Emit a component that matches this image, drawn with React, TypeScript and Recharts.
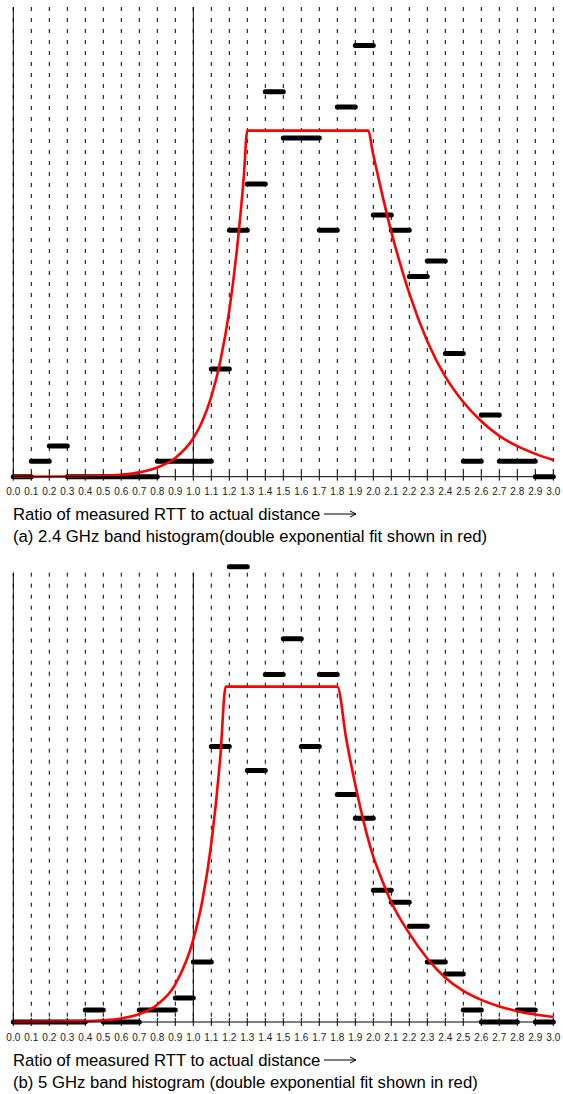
import React from 'react';
import {
  ComposedChart,
  Line,
  XAxis,
  YAxis,
  CartesianGrid,
  ReferenceLine,
} from 'recharts';

// bin edges = tick positions along the ratio axis
const binEdges = [
  0.0, 0.1, 0.2, 0.3, 0.4, 0.5, 0.6, 0.7, 0.8, 0.9, 1.0, 1.1, 1.2, 1.3, 1.4, 1.5,
  1.6, 1.7, 1.8, 1.9, 2.0, 2.1, 2.2, 2.3, 2.4, 2.5, 2.6, 2.7, 2.8, 2.9, 3.0,
];

// histogram counts per 0.1 bin (2.4 GHz)
const counts24 = [
  0, 1, 2, 0, 0, 0, 0, 0, 1, 1, 1, 7, 16, 19, 25, 22, 22, 16, 24, 28, 17, 16, 13,
  14, 8, 1, 4, 1, 1, 0,
];
// histogram counts per 0.1 bin (5 GHz)
const counts5 = [
  0, 0, 0, 0, 1, 0, 0, 1, 1, 2, 5, 23, 38, 21, 29, 32, 23, 29, 19, 17, 11, 10, 8,
  5, 4, 1, 0, 0, 1, 0,
];

// red fit
const fitX24 = [
  0, 0.3, 0.5, 0.6, 0.7, 0.8, 0.9, 1.0, 1.05, 1.1, 1.15, 1.2, 1.25, 1.28, 1.3,
  1.97, 2.0, 2.05, 2.1, 2.15, 2.2, 2.3, 2.4, 2.5, 2.6, 2.7, 2.8, 2.9, 3.0,
];
const fitY24 = [
  0, 0.015, 0.06, 0.13, 0.28, 0.6, 1.22, 2.5, 3.6, 5.2, 7.5, 10.8, 15.6, 19.4,
  22.47, 22.47, 20.9, 18.3, 15.9, 13.8, 11.9, 8.8, 6.5, 4.85, 3.6, 2.65, 1.98,
  1.48, 1.08,
];
const fitX5 = [
  0, 0.2, 0.4, 0.5, 0.6, 0.7, 0.8, 0.9, 1.0, 1.05, 1.1, 1.15, 1.18, 1.8, 1.85,
  1.9, 1.95, 2.0, 2.05, 2.1, 2.2, 2.3, 2.4, 2.5, 2.6, 2.7, 2.8, 2.9, 3.0,
];
const fitY5 = [
  0.01, 0.03, 0.07, 0.14, 0.3, 0.67, 1.45, 3.15, 6.87, 10.1, 14.9, 22.1, 28.0,
  28.0, 23.6, 19.8, 16.5, 13.8, 11.8, 10.0, 7.4, 5.3, 3.7, 2.6, 1.85, 1.3, 0.9,
  0.62, 0.42,
];

const font = '"Liberation Sans", Arial, sans-serif';

const toSteps = (counts: number[]) =>
  counts.flatMap((c, i) => [
    { x: binEdges[i], y: c },
    { x: binEdges[i + 1], y: c },
    { x: binEdges[i + 1], y: null },
  ]);

const toFit = (xs: number[], ys: number[]) => xs.map((x, i) => ({ x, y: ys[i] }));

const CrossTick = (props: any) => {
  const { x, y, payload } = props;
  return (
    <g>
      <line x1={x} x2={x} y1={y - 4} y2={y + 4} stroke="#000" strokeWidth={1} />
      <text
        x={x}
        y={y + 18.5}
        textAnchor="middle"
        fontSize={10}
        fontFamily={font}
        fill="#222"
      >
        {Number(payload.value).toFixed(1)}
      </text>
    </g>
  );
};

interface HistProps {
  counts: number[];
  fitX: number[];
  fitY: number[];
  yMax: number;
  frameTop: number;
  marginTop: number;
  axisHeight: number;
  gridY?: number;
  gridHeight?: number;
}

const Histogram: React.FC<HistProps> = ({
  counts,
  fitX,
  fitY,
  yMax,
  frameTop,
  marginTop,
  axisHeight,
  gridY,
  gridHeight,
}) => (
  <ComposedChart
    width={563}
    height={500}
    margin={{ top: marginTop, right: 9.7, bottom: 0, left: 13.3 }}
  >
    <CartesianGrid
      horizontal={false}
      stroke="#000"
      strokeDasharray="4 7"
      y={gridY}
      height={gridHeight}
    />
    <XAxis
      type="number"
      dataKey="x"
      domain={[0, 3]}
      ticks={binEdges}
      interval={0}
      height={axisHeight}
      tickSize={0}
      tickMargin={0}
      tickLine={false}
      tick={<CrossTick />}
      axisLine={{ stroke: '#000', strokeWidth: 1 }}
    />
    <YAxis type="number" domain={[0, yMax]} hide />
    <ReferenceLine
      segment={[
        { x: 0, y: 0 },
        { x: 0, y: frameTop },
      ]}
      stroke="#000"
      strokeWidth={1}
    />
    <ReferenceLine
      segment={[
        { x: 1, y: 0 },
        { x: 1, y: frameTop },
      ]}
      stroke="#000"
      strokeWidth={1}
    />
    <Line
      data={toSteps(counts)}
      dataKey="y"
      type="linear"
      stroke="#000"
      strokeWidth={5}
      strokeLinecap="round"
      dot={false}
      activeDot={false}
      connectNulls={false}
      isAnimationActive={false}
    />
    <Line
      data={toFit(fitX, fitY)}
      dataKey="y"
      type="monotone"
      stroke="#ff0000"
      strokeWidth={2.6}
      dot={false}
      activeDot={false}
      isAnimationActive={false}
    />
  </ComposedChart>
);

const textStyle: React.CSSProperties = {
  position: 'absolute',
  left: 13,
  fontFamily: font,
  fontSize: 16.7,
  lineHeight: '17px',
  color: '#000',
  whiteSpace: 'nowrap',
};

const LongArrow = () => (
  <svg width={34} height={10} style={{ marginLeft: 4, verticalAlign: 1 }}>
    <line x1={0} y1={5} x2={32} y2={5} stroke="#000" strokeWidth={1} />
    <path d="M26,2 L32,5 L26,8" fill="none" stroke="#000" strokeWidth={1} />
  </svg>
);

export default function App() {
  return (
    <div style={{ position: 'absolute', left: 0, top: 0, width: 563, height: 1094, background: '#fff' }}>
      <div style={{ position: 'absolute', left: 0, top: 0 }}>
        <Histogram
          counts={counts24}
          fitX={fitX24}
          fitY={fitY24}
          yMax={30.5}
          frameTop={30.5}
          marginTop={7}
          axisHeight={23.3}
        />
      </div>
      <div style={{ ...textStyle, top: 505.5 }}>
        Ratio of measured RTT to actual distance
        <LongArrow />
      </div>
      <div style={{ ...textStyle, top: 528 }}>
        (a) 2.4 GHz band histogram(double exponential fit shown in red)
      </div>

      <div style={{ position: 'absolute', left: 0, top: 550 }}>
        <Histogram
          counts={counts5}
          fitX={fitX5}
          fitY={fitY5}
          yMax={38}
          frameTop={37.5}
          marginTop={16.8}
          axisHeight={28}
          gridY={22.7}
          gridHeight={449.3}
        />
      </div>
      <div style={{ ...textStyle, top: 1052 }}>
        Ratio of measured RTT to actual distance
        <LongArrow />
      </div>
      <div style={{ ...textStyle, top: 1073.5 }}>
        (b) 5 GHz band histogram (double exponential fit shown in red)
      </div>
    </div>
  );
}
